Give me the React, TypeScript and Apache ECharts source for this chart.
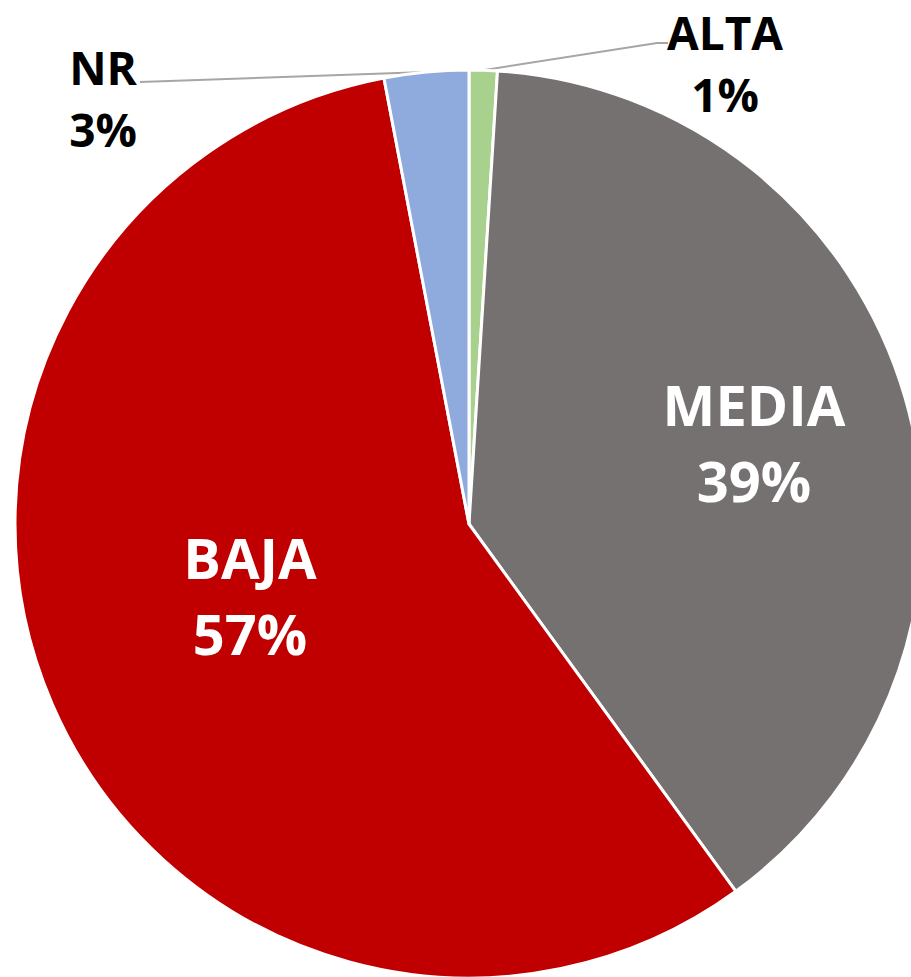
import React, { useEffect, useRef } from "react";
import * as echarts from "echarts";

const categories = ["ALTA", "MEDIA", "BAJA", "NR"];
const values = [1, 39, 57, 3];
const colors = ["#A9D18E", "#767171", "#C00000", "#8FAADC"];
const insideLabels = ["MEDIA", "BAJA"];

const CX = 469;
const CY = 524;
const R = 454;

// label placements (layout only)
const labelSpots: Record<string, { x: number; y: number; line?: number[][] }> = {
  ALTA: { x: 725, y: 63, line: [[657, 43], [668, 43]] },
  NR: { x: 103, y: 98, line: [[140, 82]] },
  MEDIA: { x: 754, y: 442 },
  BAJA: { x: 250, y: 595 },
};

export default function App() {
  const ref = useRef<HTMLDivElement>(null);
  useEffect(() => {
    if (!ref.current) return;
    const chart = echarts.init(ref.current, undefined, { renderer: "svg" });
    const data = categories.map((name, i) => {
      const inside = insideLabels.includes(name);
      return {
        name,
        value: values[i],
        itemStyle: { color: colors[i] },
        label: inside
          ? {
              show: true,
              position: "inside",
              color: "#FFFFFF",
              fontSize: 56,
              lineHeight: 76,
              fontWeight: "bold",
              fontFamily: "Open Sans",
            }
          : {
              show: true,
              position: "outside",
              color: "#000000",
              fontSize: 46,
              lineHeight: 62,
              fontWeight: "bold",
              fontFamily: "Open Sans",
            },
        labelLine: inside
          ? { show: false }
          : { show: true, lineStyle: { color: "#A6A6A6", width: 2 } },
      };
    });
    chart.setOption({
      animation: false,
      backgroundColor: "#FFFFFF",
      series: [
        {
          type: "pie",
          center: [CX, CY],
          radius: [0, R],
          startAngle: 90,
          clockwise: true,
          avoidLabelOverlap: false,
          silent: true,
          itemStyle: { borderColor: "#FFFFFF", borderWidth: 3 },
          label: {
            formatter: (p: any) => `${p.name}\n${Math.round(p.percent)}%`,
            align: "center",
          },
          labelLine: { length: 20, length2: 20 },
          labelLayout: (params: any) => {
            const name = categories[params.dataIndex];
            const spot = labelSpots[name];
            if (!spot) return {};
            const res: any = {
              x: spot.x,
              y: spot.y,
              align: "center",
              verticalAlign: "middle",
            };
            if (spot.line && params.labelLinePoints && params.labelLinePoints[0]) {
              res.labelLinePoints = [params.labelLinePoints[0], ...spot.line];
            }
            return res;
          },
          data,
        },
      ],
    });
    return () => chart.dispose();
  }, []);
  return (
    <div
      ref={ref}
      style={{ position: "fixed", left: 0, top: 0, width: 911, height: 977 }}
    />
  );
}
